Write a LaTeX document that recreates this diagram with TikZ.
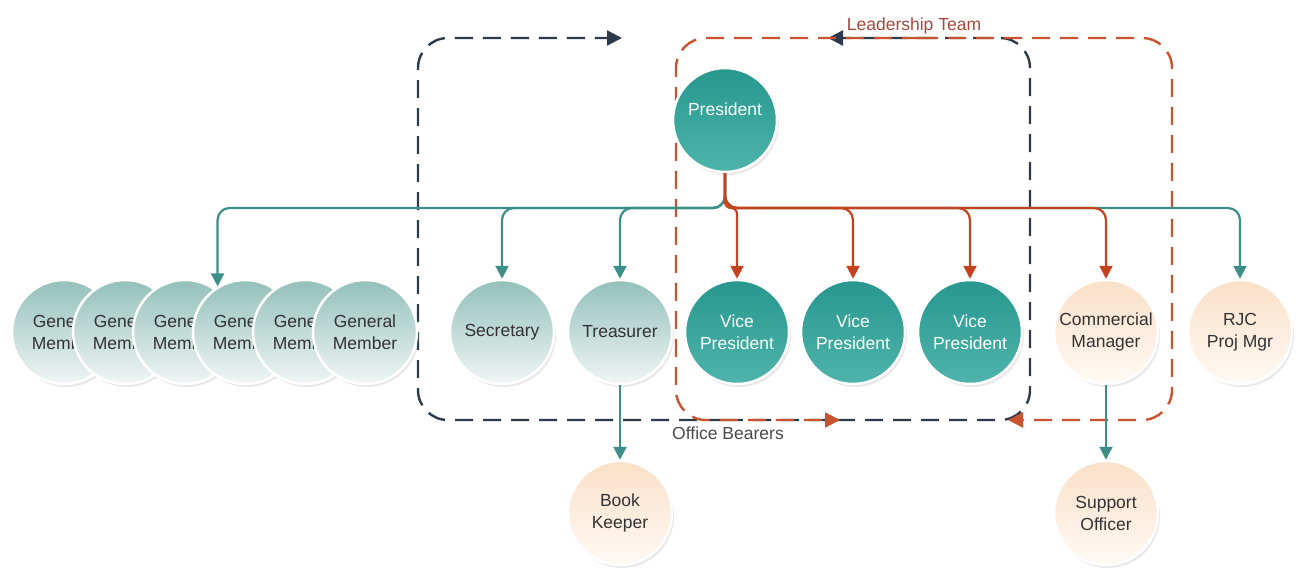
\documentclass[tikz,border=0pt]{standalone}
\usepackage{fontspec}
\setmainfont{Liberation Sans}
\usetikzlibrary{arrows.meta,shadows}
\definecolor{minttop}{HTML}{93C0B9}
\definecolor{mintbot}{HTML}{F1F6F5}
\definecolor{tealtop}{HTML}{27978E}
\definecolor{tealbot}{HTML}{4FB4AB}
\definecolor{peachtop}{HTML}{FAE0C8}
\definecolor{peachbot}{HTML}{FFFAF5}
\definecolor{tealline}{HTML}{3C8F89}
\definecolor{rustline}{HTML}{C4421C}
\definecolor{navydash}{HTML}{2D3A4B}
\definecolor{rustdash}{HTML}{C8532E}
\definecolor{textgrey}{HTML}{333333}
\definecolor{labelgrey}{HTML}{4A4A4A}
\definecolor{ltred}{HTML}{A5473A}

\begin{document}
\begin{tikzpicture}[x=1pt,y=-1pt,
    member/.style={circle, minimum size=104pt, inner sep=0pt, align=center, draw=white, line width=2.5pt, font=\fontsize{17.5}{22}\selectfont, drop shadow={opacity=0.18, shadow xshift=2pt, shadow yshift=-3pt}},
    mint/.style={member, top color=minttop, bottom color=mintbot, text=textgrey},
    lead/.style={member, top color=tealtop, bottom color=tealbot, text=white},
    peach/.style={member, top color=peachtop, bottom color=peachbot, text=textgrey},
    tealarrow/.style={draw=tealline, line width=2.2pt, rounded corners=12pt, -{Triangle[width=13pt,length=13pt]}},
    rustarrow/.style={tealarrow, draw=rustline},
    obline/.style={draw=navydash, line width=2.4pt, dash pattern=on 18pt off 10pt, rounded corners=30pt, -{Triangle[width=15pt,length=15pt]}},
    ltline/.style={obline, draw=rustdash},
    boxlabel/.style={font=\fontsize{17.5}{21}\selectfont}]

    \useasboundingbox (0,0) rectangle (1311,570);

    % office bearers box
    \coordinate (obs) at (725,420);
    \coordinate (obsw) at (418,420);
    \coordinate (obne) at (1030,38);
    \coordinate (obtipL) at (622,38);
    \coordinate (obtipR) at (828,38);
    \draw[obline] (obs) -- (obsw) -- (obsw |- obne) -- (obtipL);
    \draw[obline] (obs) -| (obne) -- (obtipR);

    % leadership team box
    \coordinate (lts) at (920,38);
    \coordinate (ltnw) at (676,38);
    \coordinate (ltse) at (1172,420);
    \coordinate (lttipL) at (840,420);
    \coordinate (lttipR) at (1008,420);
    \draw[ltline] (lts) -- (ltnw) -- (ltnw |- ltse) -- (lttipL);
    \draw[ltline] (lts) -| (ltse) -- (lttipR);

    \node[boxlabel,text=labelgrey] (oblabel) at (728,433) {Office Bearers};
    \node[boxlabel,text=ltred] (ltlabel) at (914,26) {Leadership Team};

    \node[mint] (gm1) at (64,332) {General\\Member};
    \node[mint] (gm2) at (125,332) {General\\Member};
    \node[mint] (gm3) at (185,332) {General\\Member};
    \node[mint] (gm4) at (245,332) {General\\Member};
    \node[mint] (gm5) at (305,332) {General\\Member};
    \node[mint] (gm6) at (365,332) {General\\Member};
    \node[mint] (sec) at (502,332) {Secretary};
    \node[mint] (tre) at (620,332) {Treasurer};

    \node[lead] (pres) at (725,120) {President\\\mbox{}};
    \node[lead] (vp1) at (737,332) {Vice\\President};
    \node[lead] (vp2) at (853,332) {Vice\\President};
    \node[lead] (vp3) at (970,332) {Vice\\President};

    \node[peach] (cm) at (1106,332) {Commercial\\Manager};
    \node[peach] (rjc) at (1240,332) {RJC\\Proj Mgr};
    \node[peach] (bk) at (620,513) {Book\\Keeper};
    \node[peach] (so) at (1106,513) {Support\\Officer};

    \coordinate (bus) at (725,208);
    \draw[tealarrow] (pres.south) -- (bus) -| (gm4.121);
    \draw[tealarrow] (pres.south) -- (bus) -| (sec.north);
    \draw[tealarrow] (pres.south) -- (bus) -| (tre.north);
    \draw[tealarrow] (pres.south) -- (bus) -| (rjc.north);
    \draw[rustarrow,rounded corners=6pt] (pres.south) -- (bus) -| (vp1.north);
    \draw[rustarrow] (pres.south) -- (bus) -| (vp2.north);
    \draw[rustarrow] (pres.south) -- (bus) -| (vp3.north);
    \draw[rustarrow] (pres.south) -- (bus) -| (cm.north);
    \draw[tealarrow] (tre.south) -- (bk.north);
    \draw[tealarrow] (cm.south) -- (so.north);
\end{tikzpicture}
\end{document}
